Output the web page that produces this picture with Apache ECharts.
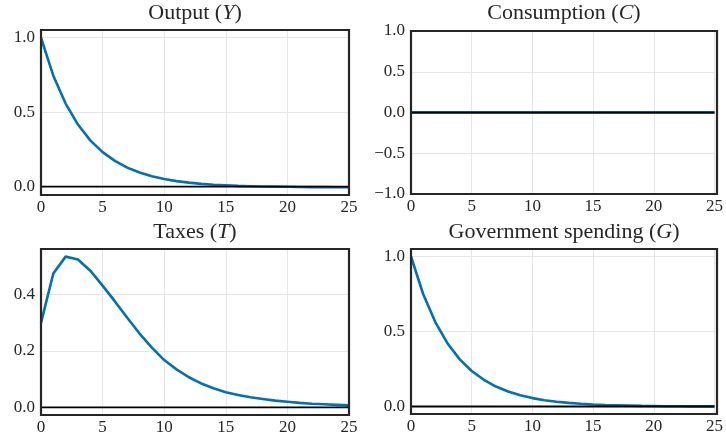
<!DOCTYPE html>
<html>
<head>
<meta charset="utf-8">
<script src="https://cdn.jsdelivr.net/npm/echarts@6/dist/echarts.min.js"></script>
<style>
  html, body { margin: 0; padding: 0; background: #ffffff; }
  #chart { width: 726px; height: 443px; }
</style>
</head>
<body>
<div id="chart"></div>
<script>
// ---- data ----
const periods = [0,1,2,3,4,5,6,7,8,9,10,11,12,13,14,15,16,17,18,19,20,21,22,23,24,25];
const outputY = [1.0,0.745,0.558,0.417,0.311,0.232,0.173,0.128,0.095,0.070,0.051,0.037,0.027,0.019,0.013,0.009,0.005,0.003,0.001,0.000,-0.001,-0.002,-0.003,-0.003,-0.004,-0.004];
const consumptionC = [0,0,0,0,0,0,0,0,0,0,0,0,0,0,0,0,0,0,0,0,0,0,0,0,0,0];
const taxesT = [0.300,0.475,0.535,0.525,0.485,0.432,0.376,0.318,0.262,0.212,0.168,0.135,0.107,0.085,0.068,0.054,0.044,0.036,0.030,0.024,0.020,0.016,0.013,0.011,0.009,0.007];
const govG = [1.0,0.750,0.563,0.422,0.316,0.237,0.178,0.133,0.100,0.075,0.056,0.042,0.032,0.024,0.018,0.013,0.010,0.008,0.006,0.004,0.003,0.002,0.002,0.001,0.001,0.001];

const xTicks = [0,5,10,15,20,25];
const yTicksOutput = [0,0.5,1.0];
const yTicksCons = [-1.0,-0.5,0,0.5,1.0];
const yTicksTaxes = [0,0.2,0.4];
const yTicksGov = [0,0.5,1.0];

const titleMain = ['Output (', 'Consumption (', 'Taxes (', 'Government spending ('];
const titleSym = ['Y', 'C', 'T', 'G'];
const yRanges = [[-0.056,1.052],[-1,1],[-0.027,0.562],[-0.05,1.05]];

// ---- layout ----
const grids = [
  {left: 41, top: 30, width: 308, height: 165},
  {left: 411, top: 31, width: 306, height: 163},
  {left: 41, top: 249, width: 308, height: 166},
  {left: 411, top: 249, width: 306, height: 165}
];
const titleTops = [2, 2, 221, 221];
const seriesData = [outputY, consumptionC, taxesT, govG];
const yTickSets = [yTicksOutput, yTicksCons, yTicksTaxes, yTicksGov];

const FONT = '"Liberation Serif", "DejaVu Serif", serif';
const TXT = '#262626';
const BLUE = '#0072b2';
const TFS = 22;
const LFS = 17;

function fmtY(v) {
  const s = (Math.round(v * 10) / 10).toFixed(1);
  return s.charAt(0) === '-' ? '\u2212' + s.slice(1) : s;
}

const option = {
  backgroundColor: '#ffffff',
  animation: false,
  title: grids.map((g, i) => ({
    text: '{n|' + titleMain[i] + '}{i|' + titleSym[i] + '}{n|)}',
    left: g.left + g.width / 2,
    textAlign: 'center',
    top: titleTops[i],
    padding: 0,
    textStyle: {
      fontFamily: FONT,
      fontSize: TFS,
      fontWeight: 'normal',
      color: TXT,
      rich: {
        n: {fontFamily: FONT, fontSize: TFS, color: TXT},
        i: {fontFamily: FONT, fontSize: TFS, color: TXT, fontStyle: 'italic'}
      }
    }
  })),
  grid: grids.map(g => Object.assign({
    show: false,
    containLabel: false
  }, g)),
  graphic: grids.map(g => ({
    type: 'rect',
    z: 100,
    silent: true,
    shape: {x: g.left, y: g.top, width: g.width, height: g.height},
    style: {fill: 'none', stroke: '#262626', lineWidth: 2.2}
  })),
  xAxis: grids.map((g, i) => ({
    type: 'value',
    gridIndex: i,
    min: 0,
    max: 25,
    interval: 5,
    axisLine: {show: false},
    axisTick: {show: false},
    axisLabel: {
      show: true,
      margin: 4,
      fontFamily: FONT,
      fontSize: LFS,
      color: TXT,
      customValues: xTicks,
      formatter: v => String(v)
    },
    splitLine: {show: true, lineStyle: {color: '#e6e6e6', width: 1}}
  })),
  yAxis: grids.map((g, i) => ({
    type: 'value',
    gridIndex: i,
    min: yRanges[i][0],
    max: yRanges[i][1],
    axisLine: {show: false},
    axisTick: {show: false, customValues: yTickSets[i]},
    axisLabel: {
      show: true,
      margin: 6,
      fontFamily: FONT,
      fontSize: LFS,
      color: TXT,
      customValues: yTickSets[i],
      formatter: v => fmtY(v)
    },
    splitLine: {show: true, lineStyle: {color: '#e6e6e6', width: 1}}
  })),
  series: []
};

for (let i = 0; i < 4; i++) {
  option.series.push({
    type: 'line',
    xAxisIndex: i,
    yAxisIndex: i,
    data: periods.map((t, k) => [t, seriesData[i][k]]),
    showSymbol: false,
    symbol: 'none',
    lineStyle: {color: BLUE, width: 2.6},
    itemStyle: {color: BLUE},
    z: 3,
    silent: true
  });
  option.series.push({
    type: 'line',
    xAxisIndex: i,
    yAxisIndex: i,
    data: [[0, 0], [25, 0]],
    showSymbol: false,
    symbol: 'none',
    lineStyle: {color: '#000000', width: 1.8},
    z: 4,
    silent: true
  });
}

const chart = echarts.init(document.getElementById('chart'), null, {renderer: 'canvas'});
chart.setOption(option);
</script>
</body>
</html>
